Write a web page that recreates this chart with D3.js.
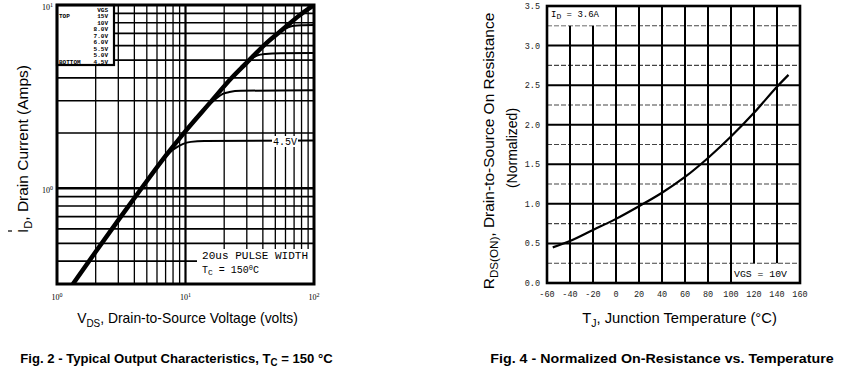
<!DOCTYPE html>
<html>
<head>
<meta charset="utf-8">
<script src="https://cdn.jsdelivr.net/npm/d3@7/dist/d3.min.js"></script>
<style>
  body { margin: 0; background: #fff; }
  svg { display: block; }
</style>
</head>
<body>
<svg id="chart" width="844" height="376"></svg>
<script>
// ---- Fig. 2 : output characteristics (log-log) ----
const vdsGrid = [2, 3, 4, 5, 6, 7, 8, 9, 10, 20, 30, 40, 50, 60, 70, 80, 90];
const idGrid  = [0.4, 0.5, 0.6, 0.7, 0.8, 0.9, 1, 2, 3, 4, 5, 6, 7, 8, 9];
const vdsTicks = [1, 10, 100];
const idTicks  = [1, 10];

// top curve (VGS 15V), thick
const vdsTop = [1.33, 2, 3, 4.55, 7, 10, 15, 23.3, 30, 42.6, 60, 77.3, 100];
const idTop  = [0.3, 0.45, 0.67, 1.0, 1.5, 2.05, 2.85, 4.06, 4.85, 6.2, 7.58, 8.8, 10];

// saturating curves
const vds45 = [6.5, 8, 9.5, 11, 14, 100];
const id45  = [1.4, 1.62, 1.74, 1.79, 1.81, 1.82];
const vds50 = [14, 17, 19.5, 22, 27, 100];
const id50  = [2.7, 3.05, 3.27, 3.35, 3.4, 3.43];
const vds55 = [27, 32, 36, 42, 55, 100];
const id55  = [4.6, 5.05, 5.3, 5.4, 5.45, 5.47];
const vds60 = [55, 63, 70, 80, 100];
const id60  = [7.2, 7.55, 7.7, 7.75, 7.77];

const legendLeft  = ['', 'TOP', '', '', '', '', '', '', 'BOTTOM'];
const legendRight = ['VGS', '15V', '10V', '8.0V', '7.0V', '6.0V', '5.5V', '5.0V', '4.5V'];

// ---- Fig. 4 : normalized on-resistance ----
const tempTicks = [-60, -40, -20, 0, 20, 40, 60, 80, 100, 120, 140, 160];
const rTicks    = [0.0, 0.5, 1.0, 1.5, 2.0, 2.5, 3.0, 3.5];
const rMinor    = [0.25, 0.75, 1.25, 1.75, 2.25, 2.75, 3.25];
const tj  = [-55, -40, -20, 0, 20, 40, 60, 80, 100, 120, 140, 150];
const rds = [0.45, 0.53, 0.67, 0.81, 0.97, 1.14, 1.34, 1.58, 1.85, 2.15, 2.48, 2.63];

const svg = d3.select('#chart');
const SANS = 'Liberation Sans, Arial, sans-serif';
const MONO = 'Liberation Mono, DejaVu Sans Mono, monospace';

const zip = (a, b) => a.map((v, i) => [v, b[i]]);

// text with sub/superscript parts, squeezed to a given width around a centre point
function fitted(g, cx, cy, w, rot, size, weight, parts) {
  const t = g.append('text').attr('text-anchor', 'middle')
    .attr('font-family', SANS).attr('font-size', size).attr('font-weight', weight || 'normal');
  let shift = 0;
  parts.forEach(([str, dy, fs]) => {
    t.append('tspan').attr('dy', dy - shift).attr('font-size', fs || size).text(str);
    shift = dy;
  });
  const bw = t.node().getBBox().width;
  t.attr('transform', `translate(${cx},${cy}) rotate(${rot}) scale(${w / bw},1)`);
  return t;
}

/* ================= left chart ================= */
const L = { x0: 57, x1: 314, y0: 5, y1: 284 };
const xL = d3.scaleLog().domain([1, 100]).range([L.x0, L.x1]);
const yL = d3.scaleLog().domain([0.3, 10]).range([L.y1, L.y0]);

svg.append('clipPath').attr('id', 'clipL')
  .append('rect').attr('x', L.x0).attr('y', L.y0).attr('width', L.x1 - L.x0).attr('height', L.y1 - L.y0);

const gL = svg.append('g');

gL.selectAll('line.v').data(vdsGrid).join('line')
  .attr('x1', d => xL(d)).attr('x2', d => xL(d))
  .attr('y1', L.y0).attr('y2', L.y1)
  .attr('stroke', '#000').attr('stroke-width', d => d === 10 ? 2.2 : 1.3);

gL.selectAll('line.h').data(idGrid).join('line')
  .attr('x1', L.x0).attr('x2', L.x1)
  .attr('y1', d => yL(d)).attr('y2', d => yL(d))
  .attr('stroke', '#000').attr('stroke-width', d => d === 1 ? 2.6 : 1.6);

// pulse-width note box
gL.append('rect').attr('x', 197).attr('y', 249).attr('width', 116).attr('height', 34).attr('fill', '#fff');
gL.append('text').attr('x', 202).attr('y', 259)
  .attr('font-family', MONO).attr('font-size', 10).attr('textLength', 106).attr('lengthAdjust', 'spacingAndGlyphs')
  .text('20us PULSE WIDTH');
const tc = gL.append('text').attr('x', 202).attr('y', 273)
  .attr('font-family', MONO).attr('font-size', 10);
tc.append('tspan').text('T');
tc.append('tspan').attr('dy', 2).attr('font-size', 8).text('C');
tc.append('tspan').attr('dy', -2).text(' = 150');
tc.append('tspan').attr('dy', -3).attr('font-size', 7).text('0');
tc.append('tspan').attr('dy', 3).text('C');

// curves
const lineL = d3.line().x(d => xL(d[0])).y(d => yL(d[1])).curve(d3.curveMonotoneX);
const curves = gL.append('g').attr('clip-path', 'url(#clipL)');
[[vds45, id45], [vds50, id50], [vds55, id55], [vds60, id60]].forEach(([vx, iy]) => {
  curves.append('path').datum(zip(vx, iy)).attr('d', lineL)
    .attr('fill', 'none').attr('stroke', '#000').attr('stroke-width', 2);
});
curves.append('path').datum(zip(vdsTop, idTop)).attr('d', lineL)
  .attr('fill', 'none').attr('stroke', '#000').attr('stroke-width', 4.5).attr('stroke-linecap', 'butt');

// 4.5V label
gL.append('rect').attr('x', 272).attr('y', 136).attr('width', 26).attr('height', 11).attr('fill', '#fff');
gL.append('text').attr('x', 285).attr('y', yL(1.82) + 4).attr('text-anchor', 'middle')
  .attr('font-family', MONO).attr('font-size', 10).text('4.5V');

// legend box
gL.append('rect').attr('x', L.x0).attr('y', L.y0).attr('width', 57).attr('height', 60)
  .attr('fill', '#fff').attr('stroke', '#000').attr('stroke-width', 2.2);
legendRight.forEach((t, i) => {
  gL.append('text').attr('x', 108).attr('y', 12 + i * 6.45).attr('text-anchor', 'end')
    .attr('font-family', MONO).attr('font-size', 6).attr('font-weight', 'bold').text(t);
  if (legendLeft[i]) {
    gL.append('text').attr('x', 59).attr('y', 12 + i * 6.45)
      .attr('font-family', MONO).attr('font-size', 6).attr('font-weight', 'bold').text(legendLeft[i]);
  }
});

// frame
gL.append('rect').attr('x', L.x0).attr('y', L.y0).attr('width', L.x1 - L.x0).attr('height', L.y1 - L.y0)
  .attr('fill', 'none').attr('stroke', '#000').attr('stroke-width', 3);

// tick labels
function powLabel(g, x, y, exp, anchor) {
  const t = g.append('text').attr('x', x).attr('y', y).attr('text-anchor', anchor)
    .attr('font-family', 'Liberation Serif, serif').attr('font-size', 8);
  t.append('tspan').text('10');
  t.append('tspan').attr('dy', -3).attr('font-size', 6).text(exp);
}
vdsTicks.forEach(v => powLabel(gL, xL(v), 300, Math.round(Math.log10(v)), 'middle'));
idTicks.forEach(v => powLabel(gL, 53, yL(v) + 5, Math.round(Math.log10(v)), 'end'));

// axis titles
fitted(gL, 28, 149, 168, -90, 14, 'normal',
  [['I', 0], ['D', 4, 10], [', Drain Current (Amps)', 0]]);
gL.append('line').attr('x1', 8).attr('x2', 12).attr('y1', 231).attr('y2', 231).attr('stroke', '#000').attr('stroke-width', 1.2);

fitted(gL, 187.5, 323, 221, 0, 14, 'normal',
  [['V', 0], ['DS', 4, 10], [', Drain-to-Source Voltage (volts)', 0]]);

fitted(gL, 176.5, 363, 313, 0, 13.5, 'bold',
  [['Fig. 2 - Typical Output Characteristics, T', 0], ['C', 3, 10], [' = 150 °C', 0]]);

/* ================= right chart ================= */
const R = { x0: 547, x1: 800, y0: 6, y1: 283 };
const xR = d3.scaleLinear().domain([-60, 160]).range([R.x0, R.x1]);
const yR = d3.scaleLinear().domain([0, 3.5]).range([R.y1, R.y0]);

svg.append('clipPath').attr('id', 'clipR')
  .append('rect').attr('x', R.x0).attr('y', R.y0).attr('width', R.x1 - R.x0).attr('height', R.y1 - R.y0);

const gR = svg.append('g');

gR.selectAll('line.m').data(rMinor).join('line')
  .attr('x1', R.x0).attr('x2', R.x1).attr('y1', d => yR(d)).attr('y2', d => yR(d))
  .attr('stroke', '#444').attr('stroke-width', 1.1).attr('stroke-dasharray', '5,2');

gR.selectAll('line.h').data(rTicks.slice(1, -1)).join('line')
  .attr('x1', R.x0).attr('x2', R.x1).attr('y1', d => yR(d)).attr('y2', d => yR(d))
  .attr('stroke', '#000').attr('stroke-width', 2);

gR.selectAll('line.v').data(tempTicks.slice(1, -1)).join('line')
  .attr('x1', d => xR(d)).attr('x2', d => xR(d))
  .attr('y1', d => (d === -40 || d === -20) ? yR(3.25) : R.y0)
  .attr('y2', d => (d === 120 || d === 140) ? yR(0.25) : R.y1)
  .attr('stroke', '#000').attr('stroke-width', 2);

// label boxes
gR.append('rect').attr('x', R.x0).attr('y', R.y0).attr('width', xR(0) - R.x0 - 1).attr('height', yR(3.25) - R.y0 - 0.5).attr('fill', '#fff');
const idl = gR.append('text').attr('x', 551).attr('y', 17).attr('font-family', MONO).attr('font-size', 9);
idl.append('tspan').text('I');
idl.append('tspan').attr('dy', 2).attr('font-size', 8).text('D');
idl.append('tspan').attr('dy', -2).text(' = 3.6A');

gR.append('text').attr('x', 734).attr('y', 277).attr('font-family', MONO).attr('font-size', 9)
  .attr('textLength', 53).attr('lengthAdjust', 'spacingAndGlyphs').text('VGS = 10V');

// curve
const lineR = d3.line().x(d => xR(d[0])).y(d => yR(d[1])).curve(d3.curveMonotoneX);
gR.append('path').datum(zip(tj, rds)).attr('d', lineR).attr('clip-path', 'url(#clipR)')
  .attr('fill', 'none').attr('stroke', '#000').attr('stroke-width', 2.2);

// frame
gR.append('rect').attr('x', R.x0).attr('y', R.y0).attr('width', R.x1 - R.x0).attr('height', R.y1 - R.y0)
  .attr('fill', 'none').attr('stroke', '#000').attr('stroke-width', 2.6);

// ticks
gR.selectAll('text.yt').data(rTicks).join('text')
  .attr('x', 540).attr('y', d => yR(d) + 3).attr('text-anchor', 'end')
  .attr('font-family', MONO).attr('font-size', 8.5).attr('fill', '#222')
  .text(d => d.toFixed(1));
gR.selectAll('text.xt').data(tempTicks).join('text')
  .attr('x', d => xR(d)).attr('y', 297).attr('text-anchor', 'middle')
  .attr('font-family', MONO).attr('font-size', 8.5).attr('fill', '#222')
  .text(d => d);

// titles
fitted(gR, 494, 151, 277, -90, 14, 'normal',
  [['R', 0], ['DS(ON)', 4, 10.5], [', Drain-to-Source On Resistance', 0]]);
gR.append('text').attr('transform', 'translate(517,148) rotate(-90)').attr('text-anchor', 'middle')
  .attr('font-family', SANS).attr('font-size', 14).text('(Normalized)');

fitted(gR, 679.5, 323, 195, 0, 14, 'normal',
  [['T', 0], ['J', 4, 10], [', Junction Temperature (°C)', 0]]);

fitted(gR, 662, 363, 344, 0, 13.5, 'bold',
  [['Fig. 4 - Normalized On-Resistance vs. Temperature', 0]]);
</script>
</body>
</html>
